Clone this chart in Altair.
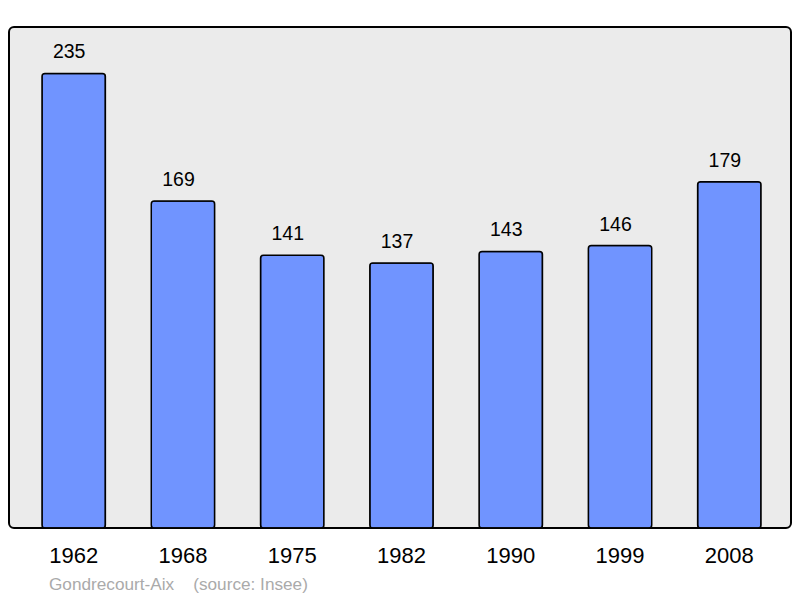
import altair as alt
import pandas as pd

years = ["1962", "1968", "1975", "1982", "1990", "1999", "2008"]
population = [235, 169, 141, 137, 143, 146, 179]
footer = "Gondrecourt-Aix\u00a0\u00a0\u00a0\u00a0(source: Insee)"

df = pd.DataFrame({"year": years, "pop": population})

x = alt.X("year:N", sort=years,
          scale=alt.Scale(paddingInner=0.42, paddingOuter=0, range=[33, 752]),
          axis=alt.Axis(title=None, labelAngle=0, labelFontSize=22, labelColor="black",
                        labelFont="Liberation Sans", domain=False, ticks=False, labelPadding=17))
y = alt.Y("pop:Q", scale=alt.Scale(domain=[0, 259], nice=False), axis=None)

bars = alt.Chart(df).mark_bar(color="#7094ff", stroke="black", strokeWidth=1.5,
                              cornerRadius=3).encode(x=x, y=y)
labels = alt.Chart(df).mark_text(baseline="bottom", dy=-11, dx=-4.5, fontSize=19.5,
                                 font="Liberation Sans", color="black").encode(
    x=x, y=y, text="pop:Q")
foot = alt.Chart(pd.DataFrame({"t": [footer]})).mark_text(
    align="left", baseline="middle", fontSize=17.2, font="Liberation Sans", color="#aaaaaa"
).encode(x=alt.value(40), y=alt.value(558), text="t:N")

chart = alt.layer(bars, labels, foot).properties(
    width=782, height=501,
    autosize=alt.AutoSizeParams(type="none"),
    padding={"left": 1, "top": 19, "right": 1, "bottom": 70},
).configure_view(fill="#ebebeb", stroke="black", strokeWidth=2, cornerRadius=5)

chart.save("out.html", embed_options={"renderer": "svg", "actions": False})
